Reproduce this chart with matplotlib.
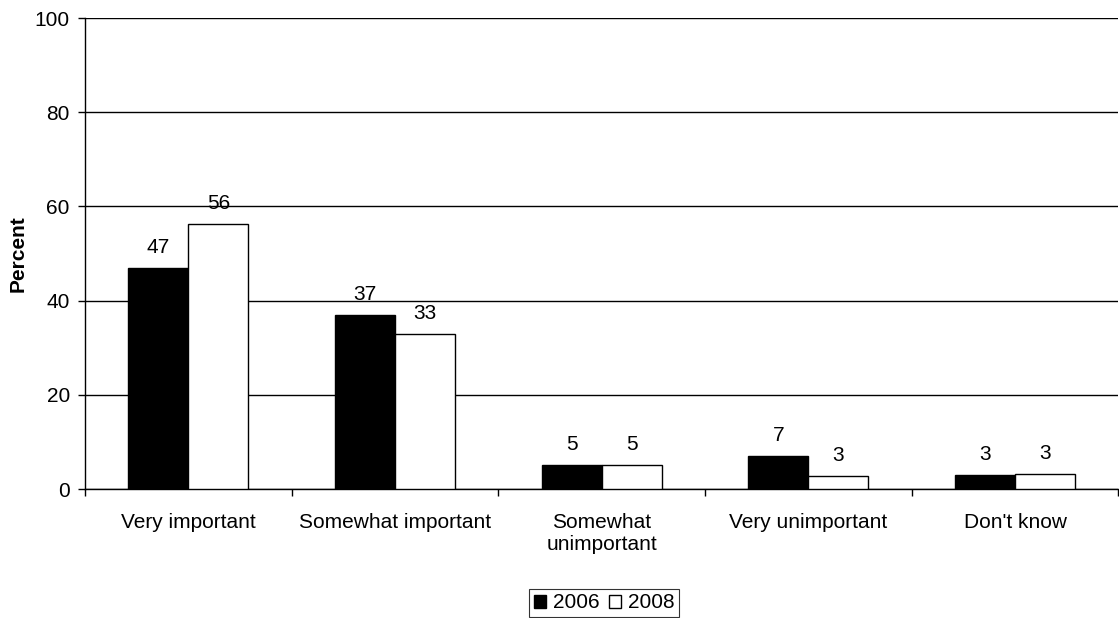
import matplotlib.pyplot as plt
import numpy as np

# survey answers, percent of respondents
categories = ["Very important", "Somewhat important", "Somewhat\nunimportant",
              "Very unimportant", "Don't know"]
pct_2006 = [47, 37, 5, 7, 3]
pct_2008 = [56.3, 32.9, 5, 2.7, 3.1]
labels_2006 = ["47", "37", "5", "7", "3"]
labels_2008 = ["56", "33", "5", "3", "3"]

plt.rcParams["font.family"] = ["Liberation Sans", "DejaVu Sans"]
fs = 15

fig = plt.figure(figsize=(11.19, 6.18), dpi=100)
ax = fig.add_axes([0.076, 0.2087, 0.9235, 0.762])

x = np.arange(len(categories))
w = 0.29
b1 = ax.bar(x - w / 2, pct_2006, w, color="black", edgecolor="black", lw=1, label="2006", zorder=3)
b2 = ax.bar(x + w / 2, pct_2008, w, color="white", edgecolor="black", lw=1, label="2008", zorder=3)

# value labels above bars
for rect, txt in zip(b1, labels_2006):
    ax.annotate(txt, (rect.get_x() + rect.get_width() / 2, rect.get_height()),
                xytext=(0, 8), textcoords="offset points", ha="center", va="bottom", fontsize=fs)
for rect, txt in zip(b2, labels_2008):
    ax.annotate(txt, (rect.get_x() + rect.get_width() / 2, rect.get_height()),
                xytext=(0, 8), textcoords="offset points", ha="center", va="bottom", fontsize=fs)

ax.set_xlim(-0.5, len(categories) - 0.5)
ax.set_ylim(0, 100)
ax.set_yticks(np.arange(0, 101, 20))
ax.yaxis.grid(True, color="black", lw=1, zorder=0)
ax.set_axisbelow(True)

# category labels at centres, tick marks at the group boundaries
ax.set_xticks(x)
ax.set_xticklabels(categories, fontsize=fs)
ax.tick_params(axis="x", which="major", length=0, pad=17)
ax.set_xticks(np.arange(-0.5, len(categories), 1), minor=True)
ax.tick_params(axis="x", which="minor", length=5, width=1, direction="out")
ax.tick_params(axis="y", length=5, width=1, direction="out", labelsize=fs, pad=6)

for side in ["top", "right"]:
    ax.spines[side].set_visible(False)
ax.spines["left"].set_linewidth(1)
ax.spines["bottom"].set_linewidth(1)

ax.set_ylabel("Percent", fontweight="bold", fontsize=fs, labelpad=5)

leg = fig.legend(handles=[b1, b2], labels=["2006", "2008"], loc="lower center",
                 bbox_to_anchor=(0.54, 0.0), ncol=2, fontsize=fs, frameon=True,
                 fancybox=False, handlelength=0.58, handleheight=0.58, handletextpad=0.33,
                 columnspacing=0.45, borderpad=0.22, borderaxespad=0.05)
leg.get_frame().set_edgecolor("black")
leg.get_frame().set_linewidth(0.8)

plt.savefig("out.png", dpi=100)
